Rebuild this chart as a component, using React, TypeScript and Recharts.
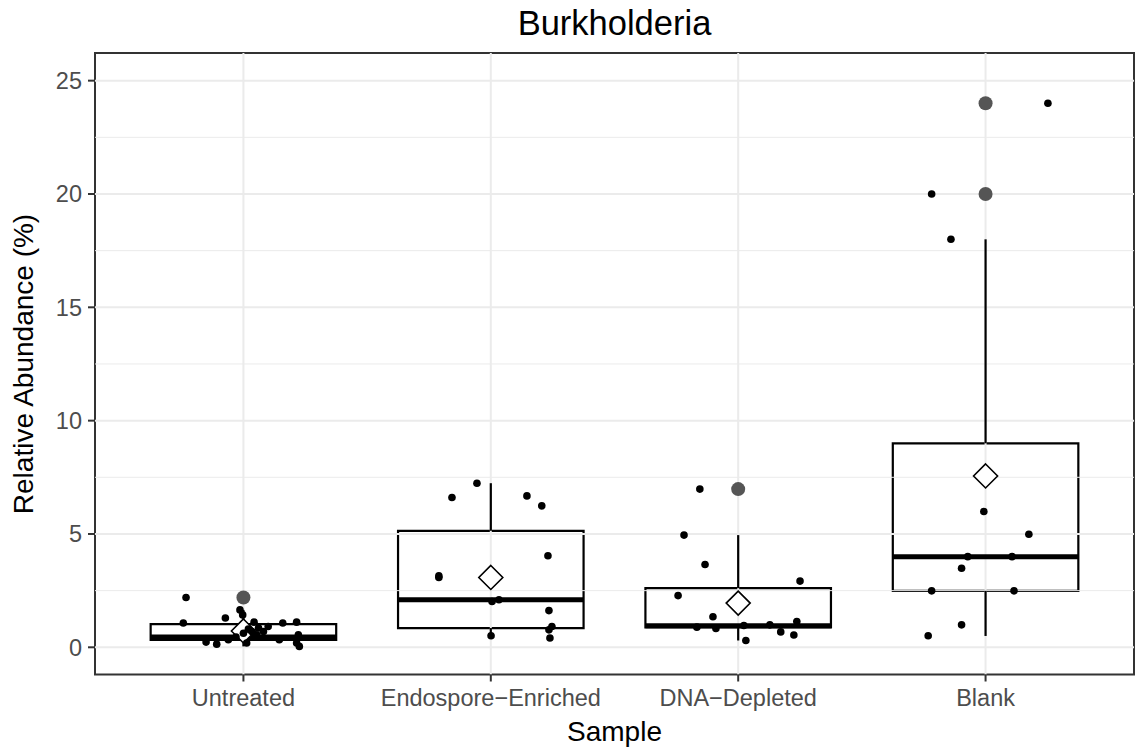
import React from "react";
import { ComposedChart, Scatter, XAxis, YAxis, ReferenceArea, ReferenceLine } from "recharts";

const categories = ["Untreated", "Endospore−Enriched", "DNA−Depleted", "Blank"];
const categoryPositions = [1, 2, 3, 4];

// boxplot stats per category
const boxQ1 = [0.33, 0.85, 0.88, 2.49];
const boxMedian = [0.45, 2.1, 0.95, 4.0];
const boxQ3 = [1.02, 5.14, 2.61, 9.0];
const whiskerLow = [0.04, 0.41, 0.3, 0.5];
const whiskerHigh = [1.65, 7.24, 4.95, 18.0];
const means = [0.72, 3.08, 1.95, 7.56];

// outliers drawn by the boxplot (grey)
const outlierX = [1, 3, 4, 4];
const outlierY = [2.2, 6.98, 24, 20];

// jittered sample points [x, y]
const untreatedPoints = [
  [0.768, 2.2], [0.757, 1.07], [0.927, 1.29], [0.986, 1.65], [0.997, 1.43],
  [1.043, 1.11], [1.1, 0.92], [1.159, 1.07], [1.215, 1.11], [1.222, 0.55],
  [1.215, 0.19], [1.226, 0.04], [1.145, 0.33], [1.013, 0.19], [0.939, 0.33],
  [0.892, 0.14], [0.849, 0.23], [1.061, 0.85], [1.034, 0.7], [1.081, 0.7],
  [1.054, 0.55], [1.0, 0.62], [1.02, 0.8], [0.97, 0.45],
];
const endosporePoints = [
  [1.944, 7.24], [1.843, 6.61], [2.146, 6.68], [2.206, 6.24], [2.231, 4.04],
  [1.79, 3.15], [1.79, 3.08], [2.005, 2.02], [2.033, 2.1], [2.235, 1.62],
  [2.247, 0.92], [2.235, 0.77], [2.239, 0.41], [2.001, 0.51],
];
const dnaPoints = [
  [2.845, 6.98], [2.781, 4.95], [2.866, 3.65], [3.25, 2.92], [2.757, 2.28],
  [2.898, 1.35], [2.833, 0.89], [2.91, 0.83], [3.023, 0.96], [3.128, 0.99],
  [3.172, 0.68], [3.237, 1.14], [3.225, 0.54], [3.031, 0.3],
];
const blankPoints = [
  [4.252, 24.0], [3.782, 20.0], [3.86, 18.0], [3.993, 5.99], [4.175, 4.99],
  [3.928, 4.0], [4.107, 4.0], [3.903, 3.49], [3.782, 2.49], [4.115, 2.49],
  [3.903, 0.99], [3.768, 0.51],
];

const yMajorTicks = [0, 5, 10, 15, 20, 25];
const yMinorTicks = [2.5, 7.5, 12.5, 17.5, 22.5];

const FONT = "'Liberation Sans', Arial, Helvetica, sans-serif";
const HALF_BOX = 0.375;
const X_DOMAIN = [0.4, 4.6];
const Y_DOMAIN = [-1.2, 26.22];

const jitterData = [...untreatedPoints, ...endosporePoints, ...dnaPoints, ...blankPoints].map(
  ([x, y]) => ({ x, y }),
);
const outlierData = outlierX.map((x, i) => ({ x, y: outlierY[i] }));
const meanData = categoryPositions.map((x, i) => ({ x, y: means[i] }));

const Dot = (props: any) => <circle cx={props.cx} cy={props.cy} r={3.8} fill="#000" />;
const OutlierDot = (props: any) => <circle cx={props.cx} cy={props.cy} r={7} fill="#555555" />;
const Diamond = (props: any) => {
  const { cx, cy } = props;
  const s = 12;
  return (
    <polygon
      points={`${cx},${cy - s} ${cx + s},${cy} ${cx},${cy + s} ${cx - s},${cy}`}
      fill="#fff"
      stroke="#000"
      strokeWidth={1.6}
    />
  );
};

export default function App() {
  return (
    <div style={{ position: "absolute", left: 0, top: 0, width: 1139, height: 749, background: "#fff" }}>
      <ComposedChart
        width={1139}
        height={749}
        margin={{ top: 53, right: 5, left: 25, bottom: 24.5 }}
      >
        <XAxis
          type="number"
          dataKey="x"
          domain={X_DOMAIN}
          ticks={categoryPositions}
          tickFormatter={(v) => categories[v - 1]}
          allowDataOverflow
          height={50}
          axisLine={false}
          tickLine={{ stroke: "#333", strokeWidth: 2 }}
          tickSize={7}
          tickMargin={8}
          tick={{ fill: "#4d4d4d", fontSize: 23.5, fontFamily: FONT }}
          interval={0}
        />
        <YAxis
          type="number"
          dataKey="y"
          domain={Y_DOMAIN}
          ticks={yMajorTicks}
          allowDataOverflow
          width={70}
          axisLine={false}
          tickLine={{ stroke: "#333", strokeWidth: 2 }}
          tickSize={7}
          tickMargin={6}
          tick={{ fill: "#4d4d4d", fontSize: 23.5, fontFamily: FONT }}
          interval={0}
        />

        {yMinorTicks.map((v) => (
          <ReferenceLine key={`mn${v}`} y={v} stroke="#ebebeb" strokeWidth={1} />
        ))}
        {yMajorTicks.map((v) => (
          <ReferenceLine key={`mj${v}`} y={v} stroke="#ebebeb" strokeWidth={2} />
        ))}
        {categoryPositions.map((v) => (
          <ReferenceLine key={`vx${v}`} x={v} stroke="#ebebeb" strokeWidth={2} />
        ))}

        {categoryPositions.map((c, i) => (
          <ReferenceLine
            key={`wl${c}`}
            segment={[{ x: c, y: whiskerLow[i] }, { x: c, y: boxQ1[i] }]}
            stroke="#000"
            strokeWidth={2.2}
          />
        ))}
        {categoryPositions.map((c, i) => (
          <ReferenceLine
            key={`wh${c}`}
            segment={[{ x: c, y: boxQ3[i] }, { x: c, y: whiskerHigh[i] }]}
            stroke="#000"
            strokeWidth={2.2}
          />
        ))}
        {categoryPositions.map((c, i) => (
          <ReferenceArea
            key={`box${c}`}
            x1={c - HALF_BOX}
            x2={c + HALF_BOX}
            y1={boxQ1[i]}
            y2={boxQ3[i]}
            fill="#fff"
            fillOpacity={1}
            stroke="#000"
            strokeWidth={2.2}
          />
        ))}
        {categoryPositions.map((c, i) => (
          <ReferenceLine
            key={`med${c}`}
            segment={[{ x: c - HALF_BOX, y: boxMedian[i] }, { x: c + HALF_BOX, y: boxMedian[i] }]}
            stroke="#000"
            strokeWidth={5}
          />
        ))}

        <ReferenceArea
          x1={X_DOMAIN[0]}
          x2={X_DOMAIN[1]}
          y1={Y_DOMAIN[0]}
          y2={Y_DOMAIN[1]}
          fill="none"
          stroke="#333"
          strokeWidth={2}
        />

        <Scatter data={outlierData} shape={OutlierDot} isAnimationActive={false} />
        <Scatter data={meanData} shape={Diamond} isAnimationActive={false} />
        <Scatter data={jitterData} shape={Dot} isAnimationActive={false} />
      </ComposedChart>

      <svg
        width={1139}
        height={749}
        style={{ position: "absolute", left: 0, top: 0, pointerEvents: "none" }}
      >
        <text x={614.5} y={35} textAnchor="middle" fontSize={34.5} fontFamily={FONT} fill="#000">
          Burkholderia
        </text>
        <text x={614.5} y={741} textAnchor="middle" fontSize={28} fontFamily={FONT} fill="#000">
          Sample
        </text>
        <text
          transform="translate(33, 364) rotate(-90)"
          textAnchor="middle"
          fontSize={28}
          fontFamily={FONT}
          fill="#000"
        >
          Relative Abundance (%)
        </text>
      </svg>
    </div>
  );
}
